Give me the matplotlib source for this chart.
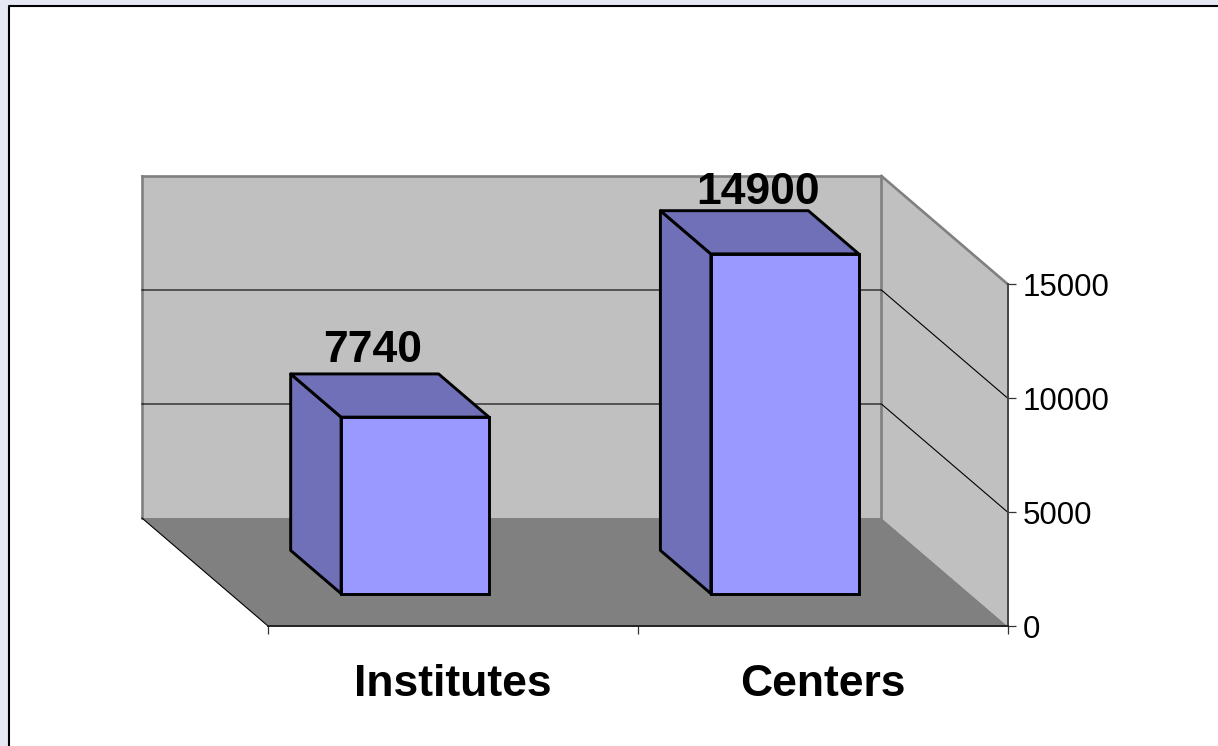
import matplotlib
matplotlib.use("Agg")
import matplotlib.pyplot as plt
from matplotlib.patches import Polygon, Rectangle

categories = ["Institutes", "Centers"]
values = [7740, 14900]
value_labels = ["7740", "14900"]
y_ticks = [0, 5000, 10000, 15000]
y_tick_labels = ["0", "5000", "10000", "15000"]

W, H = 1218, 746
# size of the 3d depth, in axis units
DEPTH_X = -126 / 369.5
DEPTH_Y = 108 / 342 * 15000
BAR_WIDTH = 0.4
BAR_FRONT = 0.3
BAR_BACK = 0.7

plt.rcParams['font.family'] = ['Liberation Sans', 'DejaVu Sans']


def project(x, y, depth):
  return (x + depth * DEPTH_X, y + depth * DEPTH_Y)


def poly(ax, pts, face, edge="none", lw=0, z=1):
  ax.add_patch(Polygon(pts, closed=True, facecolor=face, edgecolor=edge,
                       linewidth=lw, zorder=z, clip_on=False, joinstyle="round"))


fig = plt.figure(figsize=(W / 100, H / 100), dpi=100, facecolor="#e6e8f3")

# white slide panel with its dark frame, open to the right and the bottom
fig.add_artist(Rectangle((9 / W, 0), 1 - 9 / W, 1 - 6 / H, transform=fig.transFigure,
                         facecolor="white", edgecolor="none", zorder=-2))
fig.add_artist(plt.Line2D([9 / W, 9 / W, 1], [0, 1 - 6 / H, 1 - 6 / H], transform=fig.transFigure,
                          color="black", linewidth=1.5, zorder=-1))

ax = fig.add_axes([268 / W, 1 - 626 / H, 739.5 / W, 342 / H], facecolor="none")
ax.set_xlim(0, 2)
ax.set_ylim(0, 15000)

ymax = y_ticks[-1]

# walls and floor
poly(ax, [project(0, 0, 1), project(2, 0, 1), project(2, ymax, 1), project(0, ymax, 1)], "#c0c0c0", z=1)
poly(ax, [project(2, 0, 1), project(2, 0, 0), project(2, ymax, 0), project(2, ymax, 1)], "#c0c0c0", z=1)
poly(ax, [project(0, 0, 0), project(2, 0, 0), project(2, 0, 1), project(0, 0, 1)], "#808080", z=1.5)

# wall edges
for a, b in [((0, 0, 1), (0, ymax, 1)), ((0, ymax, 1), (2, ymax, 1)),
             ((2, ymax, 1), (2, 0, 1)), ((2, ymax, 1), (2, ymax, 0))]:
  pa, pb = project(*a), project(*b)
  ax.plot([pa[0], pb[0]], [pa[1], pb[1]], color="#808080", linewidth=1.9, zorder=2, clip_on=False)
pa, pb = project(0, 0, 1), project(0, 0, 0)
ax.plot([pa[0], pb[0]], [pa[1], pb[1]], color="black", linewidth=0.8, zorder=2, clip_on=False)

# gridlines on the back and side walls
for v in y_ticks[1:-1]:
  p0, p1, p2 = project(0, v, 1), project(2, v, 1), project(2, v, 0)
  ax.plot([p0[0], p1[0], p2[0]], [p0[1], p1[1], p2[1]], color="black", linewidth=0.8, zorder=2, clip_on=False)

# bars
for i, v in enumerate(values):
  cx = i + 0.5
  left, right = cx - BAR_WIDTH / 2, cx + BAR_WIDTH / 2
  fl = project(left, 0, BAR_FRONT)
  fr = project(right, 0, BAR_FRONT)
  poly(ax, [fl, project(left, 0, BAR_BACK), project(left, v, BAR_BACK), project(left, v, BAR_FRONT)],
       "#7070b8", "black", 2.1, 3)
  poly(ax, [project(left, v, BAR_FRONT), project(left, v, BAR_BACK),
            project(right, v, BAR_BACK), project(right, v, BAR_FRONT)],
       "#7070b8", "black", 2.1, 3)
  ax.bar(fl[0], v, width=fr[0] - fl[0], bottom=fl[1], align="edge", color="#9999ff",
         edgecolor="black", linewidth=2.1, zorder=4, clip_on=False)

# data labels sit a bit right of the back edge, by a different amount per bar
label_shift = [8, 24]
label_gap = [12, 7]
for i, v in enumerate(values):
  top = project(i + 0.5, v, BAR_BACK)
  ax.annotate(value_labels[i], top, xytext=(label_shift[i] * 0.72, label_gap[i] * 0.72),
              textcoords="offset points", ha="center", va="baseline", fontsize=32,
              fontweight="bold", color="black", zorder=6, annotation_clip=False)

ax.spines[["top", "left"]].set_visible(False)
ax.spines["bottom"].set_color("#222222")
ax.spines["bottom"].set_linewidth(1.4)
ax.spines["right"].set_color("#444444")
ax.spines["right"].set_linewidth(1.4)
ax.spines["bottom"].set_zorder(2.5)
ax.spines["right"].set_zorder(2.5)

ax.yaxis.tick_right()
ax.set_yticks(y_ticks, y_tick_labels)
ax.tick_params(axis="y", length=5.8, width=0.9, color="#333333", pad=5, labelsize=22.5)
ax.set_xticks([0, 1, 2], ["", "", ""])
ax.tick_params(axis="x", which="major", length=5.8, width=0.9, color="#333333")
ax.set_xticks([0.5, 1.5], categories, minor=True)
ax.tick_params(axis="x", which="minor", length=0, pad=27, labelsize=32)
for t in ax.get_xticklabels(minor=True):
  t.set_fontweight("bold")

fig.savefig("out.png", dpi=100, facecolor=fig.get_facecolor())
